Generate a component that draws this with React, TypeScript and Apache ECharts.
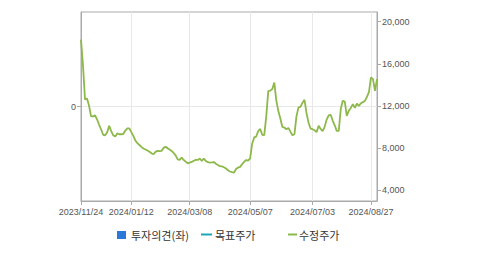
import React, { useEffect, useRef } from "react";
import * as echarts from "echarts";

// x-axis tick labels and the category index where each sits
const tickLabels = ["2023/11/24", "2024/01/12", "2024/03/08", "2024/05/07", "2024/07/03", "2024/08/27"];
const tickIndex = [0, 25, 54, 84, 115, 144];

// 수정주가 (adjusted price), ~trading-day-pair resolution
const adjPrice = [
  18300, 15800, 12600, 12700, 12000, 11000, 11000, 11100, 10700, 10200,
  9750, 9250, 9200, 9500, 10100, 9600, 9200, 9080, 9380, 9300,
  9300, 9320, 9650, 9850, 9860, 9500, 9150, 8700, 8450, 8280,
  8100, 7940, 7850, 7750, 7640, 7500, 7400, 7620, 7720, 7700,
  7720, 8000, 8100, 7980, 7850, 7715, 7520, 7300, 6920, 6860,
  7080, 6850, 6700, 6540, 6600, 6670, 6780, 6860, 6860, 6990,
  6760, 6990, 6750, 6640, 6610, 6620, 6660, 6500, 6380, 6270,
  6240, 6160, 6040, 5880, 5760, 5700, 5650, 6000, 6130, 6200,
  6450, 6680, 6850, 6800, 7000, 8400, 9000, 9080, 9600, 9800,
  9250, 9210, 11000, 13400, 13450, 13590, 14220, 12500, 11500, 10800,
  9990, 9940, 9780, 9900, 9550, 9210, 9300, 11000, 11850, 11900,
  12300, 12570, 11300, 10400, 9840, 9780, 9680, 9500, 10100, 9800,
  9600, 10000, 10700, 11100, 11150, 10600, 10150, 9620, 9620, 11700,
  12480, 12400, 11050, 11550, 11800, 12160, 11800, 12200, 12000, 12250,
  12350, 12480, 12850, 13300, 14700, 14540, 13430, 14540,
];

const rightTicks = [4000, 8000, 12000, 16000, 20000];
const leftTicks = [0];
const legendNames = ["투자의견(좌)", "목표주가", "수정주가"];

const categories = adjPrice.map((_, i) => {
  const k = tickIndex.indexOf(i);
  return k >= 0 ? tickLabels[k] : String(i);
});

export default function App() {
  const ref = useRef<HTMLDivElement>(null);
  useEffect(() => {
    document.body.style.margin = "0";
    const chart = echarts.init(ref.current!, null, { renderer: "svg" });
    const isTick = (i: number) => tickIndex.indexOf(i) >= 0;
    const axisFont = { fontFamily: "Liberation Sans, Arial, sans-serif", fontSize: 9, color: "#555" };
    const legendFont = { fontFamily: "Noto Sans CJK KR, sans-serif", fontSize: 11, fill: "#333" };
    chart.setOption({
      animation: false,
      grid: {
        left: 81, right: 102, top: 12, bottom: 54,
        show: true, borderColor: "#aaa", borderWidth: 1, backgroundColor: "transparent",
      },
      xAxis: {
        type: "category",
        data: categories,
        boundaryGap: false,
        axisLine: { onZero: false, lineStyle: { color: "#aaa" } },
        axisTick: { interval: (i: number) => isTick(i), length: 4, lineStyle: { color: "#aaa" } },
        axisLabel: { ...axisFont, interval: (i: number) => isTick(i), margin: 6 },
        splitLine: { show: true, interval: (i: number) => isTick(i), lineStyle: { color: "#e8e8e8" } },
      },
      yAxis: [
        {
          type: "value",
          position: "left",
          min: -1,
          max: 1,
          interval: 1,
          axisLine: { show: true, lineStyle: { color: "#aaa" } },
          axisTick: { show: true, length: 4, customValues: leftTicks, lineStyle: { color: "#aaa" } },
          axisLabel: { ...axisFont, customValues: leftTicks, margin: 5 },
          splitLine: { show: true, lineStyle: { color: "#e8e8e8" } },
        },
        {
          type: "value",
          position: "right",
          min: 2954,
          max: 20922,
          axisLine: { show: true, lineStyle: { color: "#aaa" } },
          axisTick: { show: true, length: 4, customValues: rightTicks, lineStyle: { color: "#aaa" } },
          axisLabel: {
            ...axisFont,
            customValues: rightTicks,
            margin: 5,
            formatter: (v: number) => v.toLocaleString("en-US"),
          },
          splitLine: { show: false },
        },
      ],
      series: [
        {
          name: legendNames[2],
          type: "line",
          yAxisIndex: 1,
          data: adjPrice,
          showSymbol: false,
          lineStyle: { color: "#8db84a", width: 1.8 },
          itemStyle: { color: "#8db84a" },
        },
      ],
      graphic: [
        { type: "rect", shape: { x: 117, y: 231, width: 9, height: 8 }, style: { fill: "#2a79d8" } },
        { type: "text", x: 131, y: 235, style: { ...legendFont, text: legendNames[0], textVerticalAlign: "middle" } },
        { type: "line", shape: { x1: 201, y1: 234.5, x2: 212, y2: 234.5 }, style: { stroke: "#1ea6b6", lineWidth: 2 } },
        { type: "text", x: 215, y: 235, style: { ...legendFont, text: legendNames[1], textVerticalAlign: "middle" } },
        { type: "line", shape: { x1: 288, y1: 234.5, x2: 297, y2: 234.5 }, style: { stroke: "#8db84a", lineWidth: 2 } },
        { type: "text", x: 299, y: 235, style: { ...legendFont, text: legendNames[2], textVerticalAlign: "middle" } },
      ],
    });
    return () => chart.dispose();
  }, []);
  return <div ref={ref} style={{ width: 479, height: 255 }} />;
}
